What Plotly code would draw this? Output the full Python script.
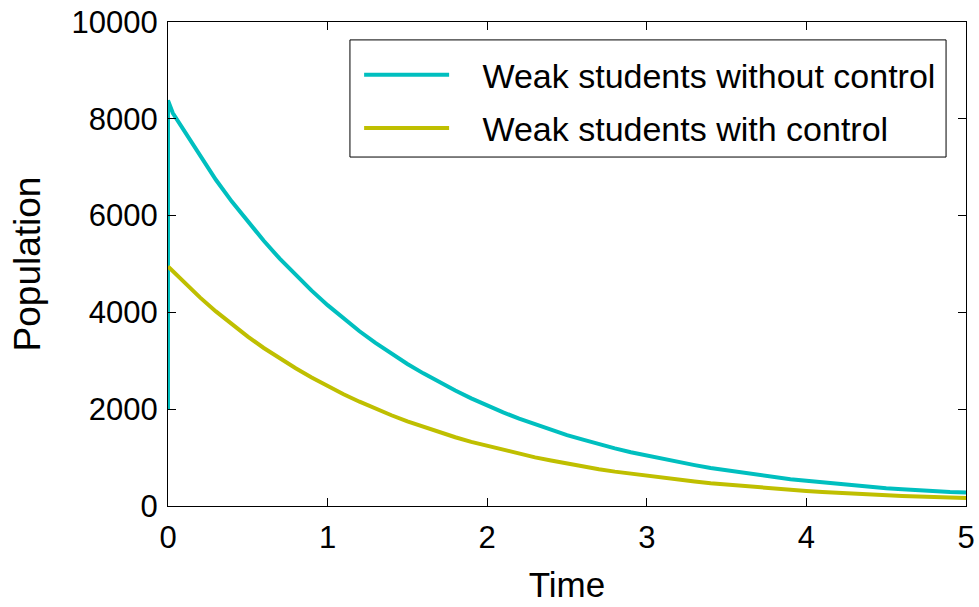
import plotly.graph_objects as go

t_without = [0, 0, 0.03, 0.1, 0.2, 0.3, 0.4, 0.5, 0.6, 0.7, 0.8, 0.9, 1.0, 1.1, 1.2, 1.3, 1.4, 1.5, 1.6, 1.7, 1.8, 1.9,
             2.0, 2.1, 2.2, 2.3, 2.4, 2.5, 2.6, 2.7, 2.8, 2.9, 3.0, 3.1, 3.2, 3.3, 3.4, 3.5, 3.6, 3.7, 3.8, 3.9,
             4.0, 4.1, 4.2, 4.3, 4.4, 4.5, 4.6, 4.7, 4.8, 4.9, 5.0]
weak_without = [2000, 8380, 8120, 7760, 7230, 6740, 6290, 5870, 5480, 5110, 4770, 4450, 4150, 3870, 3610, 3370, 3145,
                2935, 2740, 2555, 2385, 2225, 2075, 1935, 1805, 1685, 1570, 1465, 1370, 1275, 1190, 1110, 1040,
                970, 905, 845, 785, 735, 685, 640, 595, 555, 520, 485, 450, 420, 395, 365, 345, 320, 300, 290, 280]

t_with = [0, 0.1, 0.2, 0.3, 0.4, 0.5, 0.6, 0.7, 0.8, 0.9, 1.0, 1.1, 1.2, 1.3, 1.4, 1.5, 1.6, 1.7, 1.8, 1.9,
          2.0, 2.1, 2.2, 2.3, 2.4, 2.5, 2.6, 2.7, 2.8, 2.9, 3.0, 3.1, 3.2, 3.3, 3.4, 3.5, 3.6, 3.7, 3.8, 3.9,
          4.0, 4.1, 4.2, 4.3, 4.4, 4.5, 4.6, 4.7, 4.8, 4.9, 5.0]
weak_with = [4950, 4620, 4310, 4020, 3750, 3500, 3265, 3050, 2845, 2655, 2475, 2310, 2155, 2010, 1875, 1750, 1635,
             1525, 1420, 1325, 1240, 1155, 1080, 1005, 940, 875, 815, 760, 710, 665, 620, 580, 540, 505, 470,
             440, 410, 380, 355, 330, 310, 290, 270, 255, 235, 220, 205, 195, 180, 170, 165]

x_ticks = [0, 1, 2, 3, 4, 5]
y_ticks = [0, 2000, 4000, 6000, 8000, 10000]

FONT = "Liberation Sans, Arial, sans-serif"
PAD = "\u00a0\u00a0\u00a0"

fig = go.Figure()
fig.add_trace(go.Scatter(x=t_without, y=weak_without, mode="lines", name=PAD + "Weak students without control",
                         line=dict(color="rgb(0,191,191)", width=4), legendgroup="a"))
fig.add_trace(go.Scatter(x=t_with, y=weak_with, mode="lines", name=PAD + "Weak students with control",
                         line=dict(color="rgb(191,191,0)", width=4), legendgroup="b"))

axis_common = dict(showline=True, linecolor="black", linewidth=1, mirror="ticks", ticks="inside",
                   ticklen=8, tickcolor="black", showgrid=False, zeroline=False, automargin=False,
                   ticklabeloverflow="allow",
                   tickfont=dict(family=FONT, size=31, color="black"))

fig.update_layout(
    width=979, height=607,
    margin=dict(l=168, r=13, t=22, b=101),
    paper_bgcolor="white", plot_bgcolor="white",
    font=dict(family=FONT, size=31, color="black"),
    xaxis=dict(range=[0, 5], tickvals=x_ticks, ticktext=[str(v) for v in x_ticks],
               title=dict(text="Time", font=dict(family=FONT, size=35), standoff=18),
               ticklabelstandoff=4, **axis_common),
    yaxis=dict(range=[0, 10000], tickvals=y_ticks, ticktext=[str(v) for v in y_ticks],
               title=dict(text="Population", font=dict(family=FONT, size=37), standoff=19),
               ticklabelstandoff=3, **axis_common),
    legend=dict(x=0.2395, y=0.95, xanchor="left", yanchor="top", bgcolor="rgba(0,0,0,0)",
                borderwidth=0, font=dict(family=FONT, size=34), tracegroupgap=6,
                traceorder="grouped", itemwidth=85),
    shapes=[dict(type="rect", xref="paper", yref="paper", x0=0.228, x1=0.975, y0=0.721, y1=0.963,
                 line=dict(color="black", width=1), fillcolor="white", layer="below")],
)

fig.write_html("out.html", post_script="document.body.style.margin='0';",
               config={"displayModeBar": False})
